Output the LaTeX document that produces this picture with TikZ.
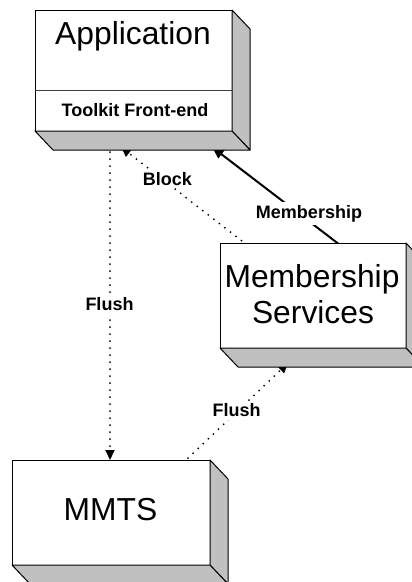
\documentclass[tikz,border=0pt]{standalone}
\usepackage{fontspec}
\setmainfont{Liberation Sans}
\usetikzlibrary{calc,arrows.meta}
\pgfdeclarelayer{bg}
\pgfsetlayers{bg,main}
\definecolor{shadegray}{RGB}{192,192,192}
\tikzset{
  box/.style={draw=black, line width=1pt, fill=white, inner sep=0pt, outer sep=0pt},
  face/.style={draw=black, line width=1pt, fill=shadegray, line join=round},
  big/.style={font=\fontsize{31.8}{36}\selectfont, inner sep=0pt, anchor=base},
  lbl/.style={font=\fontsize{18}{20}\selectfont\bfseries, fill=white, inner sep=3pt, anchor=base},
  dotline/.style={line width=2pt, dash pattern=on 0pt off 7pt, line cap=round, -{Triangle[length=10pt,width=9pt]}},
  solidline/.style={line width=2pt, -{Triangle[length=12pt,width=10pt]}},
}
\newcommand\extrude[1]{%
  \filldraw[face] (#1.north east) -- ++(18,19) -- ($(#1.south east)+(18,19)$) -- (#1.south east) -- cycle;
  \filldraw[face] (#1.south west) -- ++(18,19) -- ($(#1.south east)+(18,19)$) -- (#1.south east) -- cycle;
}
\begin{document}
\begin{tikzpicture}[x=1pt,y=-1pt]
\useasboundingbox (0,0) rectangle (412,582);
\clip (0,0) rectangle (412,582);
% boxes
\node[box, minimum width=197pt, minimum height=121pt] (app) at (133.5,70.5) {};
\extrude{app}
\draw[line width=0.8pt, black!75] ($(app.north west)+(0,80)$) -- ($(app.north east)+(0,80)$);
\node[big] (apptitle) at (133,44) {Application};
\node[font=\fontsize{18}{20}\selectfont\bfseries, inner sep=0pt, anchor=base] (toolkit) at (135,116) {Toolkit Front-end};

\node[box, minimum width=186pt, minimum height=105pt] (ms) at (313,295.5) {};
\extrude{ms}
\node[big] (mstext1) at (312,287) {Membership};
\node[big] (mstext2) at (313,323) {Services};

\node[box, minimum width=198pt, minimum height=105pt] (mmts) at (111,512.5) {};
\extrude{mmts}
\node[big] (mmtstext) at (110.5,520) {MMTS};

% connectors
\begin{pgfonlayer}{bg}
\coordinate (vfS) at ($(app.south west)+(75,14)$);
\coordinate (vfE) at ($(mmts.north west)+(98,0)$);
\coordinate (blS) at ($(ms.north west)+(27,2)$);
\coordinate (blE) at ($(app.south west)+(86,16)$);
\coordinate (mbS) at ($(ms.north west)+(120,2)$);
\coordinate (mbE) at ($(app.south west)+(177,16)$);
\coordinate (f2S) at ($(mmts.north west)+(176,-2)$);
\coordinate (f2E) at ($(ms.south west)+(68,15)$);
\draw[dotline] (vfS) -- (vfE);
\draw[dotline] (blS) -- (blE);
\draw[solidline] (mbS) -- (mbE);
\draw[dotline] (f2S) -- (f2E);
\node[lbl] (lflush1) at (109.5,310.5) {Flush};
\node[lbl] (lblock) at (167.5,185) {Block};
\node[lbl] (lmemb) at (309,218.3) {Membership};
\node[lbl] (lflush2) at (236.7,416.7) {Flush};
\end{pgfonlayer}
\end{tikzpicture}
\end{document}
